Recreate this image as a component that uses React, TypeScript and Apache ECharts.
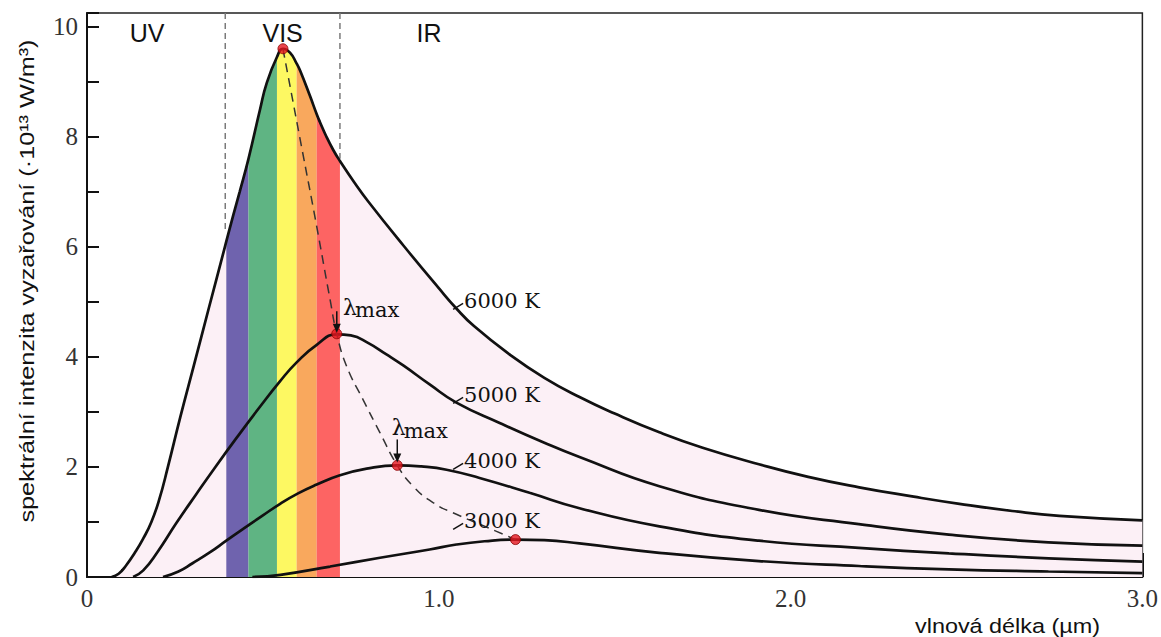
import React, { useEffect, useRef } from "react";
import * as echarts from "echarts";

// ---- data (x in µm, y in 10^13 W/m³) ----
const T6000: number[][] = [
  [0.07, 0], [0.09, 0.06], [0.11, 0.2], [0.14, 0.48], [0.16, 0.7], [0.183, 1.0], [0.205, 1.4],
  [0.23, 2.0], [0.265, 2.9], [0.304, 3.85], [0.346, 4.88], [0.39, 5.95], [0.396, 6.1], [0.416, 6.58],
  [0.434, 7.0], [0.459, 7.6], [0.492, 8.5], [0.511, 8.98], [0.54, 9.45], [0.557, 9.6], [0.577, 9.53],
  [0.596, 9.33], [0.606, 9.2], [0.634, 8.74], [0.653, 8.41], [0.662, 8.27], [0.68, 8.01], [0.7, 7.76],
  [0.719, 7.56], [0.76, 7.17], [0.8, 6.82], [0.9, 6.02], [1.0, 5.25], [1.05, 4.88], [1.1, 4.56],
  [1.2, 4.05], [1.3, 3.62], [1.4, 3.27], [1.5, 2.97], [1.627, 2.63], [1.75, 2.35], [1.91, 2.05],
  [2.05, 1.82], [2.195, 1.63], [2.35, 1.46], [2.48, 1.33], [2.63, 1.2], [2.764, 1.11], [3.0, 1.03],
];
const T5000: number[][] = [
  [0.131, 0], [0.16, 0.12], [0.2, 0.45], [0.254, 0.98], [0.31, 1.5], [0.365, 2.0], [0.43, 2.57],
  [0.49, 3.08], [0.549, 3.56], [0.596, 3.9], [0.653, 4.22], [0.71, 4.41], [0.75, 4.39], [0.8, 4.25],
  [0.85, 4.05], [0.9, 3.84], [0.974, 3.5], [1.05, 3.17], [1.173, 2.8], [1.3, 2.44], [1.4, 2.18],
  [1.627, 1.65], [1.91, 1.22], [2.194, 0.96], [2.45, 0.77], [2.733, 0.63], [3.0, 0.57],
];
const T4000: number[][] = [
  [0.216, 0], [0.26, 0.1], [0.3, 0.25], [0.35, 0.45], [0.396, 0.66], [0.45, 0.9], [0.5, 1.12],
  [0.549, 1.33], [0.6, 1.52], [0.653, 1.68], [0.719, 1.85], [0.795, 1.97], [0.882, 2.03], [0.95, 2.01],
  [1.022, 1.95], [1.116, 1.8], [1.258, 1.53], [1.4, 1.25], [1.627, 0.92], [1.91, 0.66], [2.194, 0.53],
  [2.45, 0.43], [2.733, 0.34], [3.0, 0.28],
];
const T3000: number[][] = [
  [0.47, 0], [0.55, 0.04], [0.691, 0.19], [0.833, 0.35], [0.974, 0.5], [1.05, 0.59], [1.13, 0.65],
  [1.218, 0.68], [1.3, 0.67], [1.4, 0.61], [1.627, 0.44], [1.91, 0.29], [2.194, 0.2], [2.45, 0.14],
  [2.733, 0.1], [3.0, 0.07],
];
const WIEN: number[][] = [
  [0.557, 9.6], [0.606, 7.95], [0.653, 6.37], [0.691, 5.04], [0.71, 4.42], [0.738, 3.83],
  [0.785, 3.22], [0.833, 2.62], [0.882, 2.03], [0.927, 1.65], [0.984, 1.35], [1.05, 1.14],
  [1.164, 0.83], [1.218, 0.68],
];
const PEAKS: number[][] = [[0.557, 9.6], [0.71, 4.42], [0.882, 2.03], [1.218, 0.68]];

// visible spectrum bands [from, to]
const BAND_EDGES: number[][] = [[0.396, 0.459], [0.459, 0.54], [0.54, 0.596], [0.596, 0.653], [0.653, 0.719]];
const BAND_COLORS = ["#6f63ae", "#5fb483", "#fdf862", "#f9a85d", "#fd6463"];
// UV/VIS and VIS/IR dashed borders: x and where they meet the 6000 K curve
const BORDER_X = [0.393, 0.719];
const BORDER_BOTTOM = [6.3, 7.6];

const X_LABELS = ["0", "1.0", "2.0", "3.0"];
const Y_LABELS = ["0", "2", "4", "6", "8", "10"];

const CURVE_NAMES = ["6000 K", "5000 K", "4000 K", "3000 K"];
const CURVE_LABEL_POS: number[][] = [[1.072, 5.01], [1.072, 3.3], [1.072, 2.1], [1.072, 1.01]];
const LAMBDA_POS: number[][] = [[0.728, 4.9], [0.866, 2.71]];
const ARROWS: number[][] = [[0.71, 4.83, 4.44], [0.882, 2.5, 2.08]];
const REGIONS = ["UV", "VIS", "IR"];
const REGION_POS: number[][] = [[0.171, 9.88], [0.556, 9.88], [0.972, 9.88]];

const PINK = "#fcf0f6";
const INK = "#111";

export default function App() {
  const ref = useRef<HTMLDivElement>(null);

  useEffect(() => {
    const chart = echarts.init(ref.current!, null, { renderer: "svg" });
    const base = { type: "line", symbol: "none", smooth: 0.5, silent: true, animation: false };

    const inBand = (x0: number, x1: number) =>
      T6000.filter((p) => p[0] >= x0 - 1e-9 && p[0] <= x1 + 1e-9);

    const series: any[] = [
      { ...base, data: T6000, lineStyle: { width: 0 }, areaStyle: { color: PINK, opacity: 1 } },
      ...BAND_EDGES.map((b, i) => ({
        ...base,
        data: inBand(b[0], b[1]),
        lineStyle: { width: 0 },
        areaStyle: { color: BAND_COLORS[i], opacity: 1 },
      })),
      ...BORDER_X.map((x, i) => ({
        ...base,
        smooth: false,
        data: [[x, 10.25], [x, BORDER_BOTTOM[i]]],
        lineStyle: { color: "#7a7a7a", width: 1.5, type: [6, 4] },
      })),
      ...[T6000, T5000, T4000, T3000].map((d) => ({
        ...base,
        data: d,
        lineStyle: { color: INK, width: 2.7 },
      })),
      {
        ...base,
        data: WIEN,
        lineStyle: { color: "#333", width: 1.5, type: [9, 6] },
      },
      {
        type: "scatter",
        data: PEAKS,
        symbolSize: 10,
        silent: true,
        itemStyle: { color: "#e3161f", borderColor: "#8a0000", borderWidth: 1 },
        z: 5,
      },
    ];

    const isInt = (v: number) => Math.abs(v - Math.round(v)) < 1e-6;

    chart.setOption({
      animation: false,
      backgroundColor: "#fff",
      grid: { left: 87, right: 17, top: 13, bottom: 60, show: true, borderColor: "#222", borderWidth: 1.5, backgroundColor: "transparent" },
      xAxis: [
        {
          type: "value", min: 0, max: 3, interval: 0.5,
          axisLine: { lineStyle: { color: INK, width: 2 } },
          axisTick: { inside: true, length: 18, lineStyle: { color: INK, width: 2 } },
          minorTick: { show: true, splitNumber: 5, length: 8, lineStyle: { color: INK, width: 2 } },
          splitLine: { show: false },
          axisLabel: {
            margin: 9, color: "#333", fontFamily: "Liberation Serif", fontSize: 25,
            formatter: (v: number) => (isInt(v) ? X_LABELS[Math.round(v)] : ""),
          },
        },
        {
          type: "value", min: 0, max: 3, interval: 1, position: "bottom",
          axisLine: { show: false },
          axisTick: { inside: true, length: 24, lineStyle: { color: INK, width: 2 } },
          axisLabel: { show: false },
          splitLine: { show: false },
        },
      ],
      yAxis: {
        type: "value", min: 0, max: 10.25, interval: 1,
        axisLine: { lineStyle: { color: INK, width: 2 } },
        axisTick: { inside: true, length: 12, lineStyle: { color: INK, width: 2 } },
        splitLine: { show: false },
        axisLabel: {
          margin: 9, color: "#333", fontFamily: "Liberation Serif", fontSize: 25,
          formatter: (v: number) => (isInt(v) && Math.round(v) % 2 === 0 ? Y_LABELS[Math.round(v) / 2] : ""),
        },
      },
      series,
    });

    const P = (x: number, y: number) => chart.convertToPixel({ seriesIndex: 0 }, [x, y]) as number[];
    const g: any[] = [];
    const Z = 100;

    CURVE_NAMES.forEach((name, i) => {
      const [tx, ty] = P(CURVE_LABEL_POS[i][0], CURVE_LABEL_POS[i][1]);
      g.push({
        type: "text", x: tx, y: ty, silent: true, z: Z,
        style: { text: name, fontFamily: "DejaVu Serif", fontSize: 21, fill: INK, align: "left", verticalAlign: "middle" },
      });
      g.push({
        type: "line", silent: true, z: Z,
        shape: { x1: tx - 11, y1: ty + 8, x2: tx - 1, y2: ty + 2 },
        style: { stroke: INK, lineWidth: 1.5 },
      });
    });

    LAMBDA_POS.forEach((p) => {
      const [tx, ty] = P(p[0], p[1]);
      g.push({
        type: "text", x: tx, y: ty, silent: true, z: Z,
        style: { text: "λ", fontFamily: "DejaVu Serif", fontSize: 22, fill: INK, align: "left", verticalAlign: "middle" },
      });
      g.push({
        type: "text", x: tx + 12, y: ty + 3, silent: true, z: Z,
        style: { text: "max", fontFamily: "DejaVu Serif", fontSize: 21, fill: INK, align: "left", verticalAlign: "middle" },
      });
    });

    ARROWS.forEach((a) => {
      const [ax, ay0] = P(a[0], a[1]);
      const [, ay1] = P(a[0], a[2]);
      g.push({
        type: "line", silent: true, z: Z,
        shape: { x1: ax, y1: ay0, x2: ax, y2: ay1 - 6 },
        style: { stroke: INK, lineWidth: 1.5 },
      });
      g.push({
        type: "polygon", silent: true, z: Z,
        shape: { points: [[ax - 4, ay1 - 9], [ax + 4, ay1 - 9], [ax, ay1]] },
        style: { fill: INK },
      });
    });

    REGIONS.forEach((r, i) => {
      const [tx, ty] = P(REGION_POS[i][0], REGION_POS[i][1]);
      g.push({
        type: "text", x: tx, y: ty, silent: true, z: Z,
        style: { text: r, fontFamily: "Liberation Sans", fontSize: 25, fill: INK, align: "center", verticalAlign: "middle" },
      });
    });

    g.push({
      type: "text", x: 27, y: 281, rotation: Math.PI / 2, scaleX: 1.2, silent: true, z: Z,
      style: {
        text: "spektrální intenzita vyzařování (·10¹³ W/m³)",
        fontFamily: "Liberation Sans", fontSize: 21, fill: INK, align: "center", verticalAlign: "middle",
      },
    });
    g.push({
      type: "text", x: 1100, y: 627, scaleX: 1.2, silent: true, z: Z,
      style: {
        text: "vlnová délka (µm)",
        fontFamily: "Liberation Sans", fontSize: 19.5, fill: INK, align: "right", verticalAlign: "middle",
      },
    });

    chart.setOption({ graphic: g });

    return () => chart.dispose();
  }, []);

  return (
    <div
      ref={ref}
      style={{ position: "fixed", left: 0, top: 0, width: 1161, height: 637, background: "#fff" }}
    />
  );
}
